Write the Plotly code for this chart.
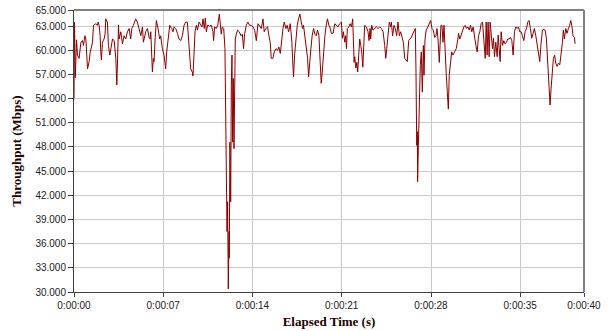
import plotly.graph_objects as go

# ---- data (elapsed seconds, throughput Mbps) ----
t_seg1 = [0.0, 0.04, 0.1, 0.2, 0.27, 0.40, 0.54, 0.67, 0.74, 0.85, 0.93, 0.98, 1.06, 1.19, 1.27, 1.37, 1.45, 1.53, 1.71, 1.84,
          1.89, 1.97, 2.05, 2.10, 2.15, 2.23, 2.36, 2.44, 2.49, 2.62, 2.70, 2.81, 2.89, 3.02, 3.15, 3.28, 3.36, 3.43, 3.49, 3.54,
          3.67, 3.80, 3.93, 4.06, 4.19, 4.32, 4.45, 4.53, 4.66, 4.84, 4.97, 5.10, 5.24, 5.37, 5.44, 5.63, 5.76, 5.89, 5.97, 6.02,
          6.10, 6.15, 6.23, 6.28, 6.36, 6.46, 6.59, 6.72, 6.80, 6.93, 7.06, 7.19, 7.27, 7.40, 7.51, 7.66, 7.77, 7.85, 7.98, 8.11,
          8.24, 8.37, 8.50, 8.63, 8.76, 8.89, 9.02, 9.15, 9.28, 9.33, 9.41, 9.49, 9.60, 9.68, 9.81, 9.94]
v_seg1 = [54.0, 63.5, 56.6, 61.3, 59.4, 59.0, 61.0, 61.2, 60.6, 61.8, 61.4, 60.2, 57.7, 58.6, 59.8, 60.4, 61.0, 63.1, 63.3, 63.1,
          63.5, 63.1, 61.8, 59.8, 58.8, 61.0, 61.4, 62.1, 63.9, 63.5, 60.6, 59.4, 60.2, 61.4, 61.2, 59.0, 55.7, 59.0, 63.1, 61.4,
          62.3, 60.8, 61.8, 61.4, 62.3, 62.7, 61.4, 62.7, 63.1, 63.9, 63.5, 62.7, 61.8, 62.9, 61.0, 62.3, 62.7, 61.6, 61.4, 62.3,
          59.8, 57.3, 59.0, 58.6, 61.4, 63.7, 62.7, 61.4, 61.8, 60.2, 59.4, 57.7, 59.8, 61.8, 63.1, 62.7, 62.3, 62.9, 62.7, 62.1,
          61.4, 61.2, 61.8, 63.1, 63.5, 63.5, 60.6, 57.7, 57.3, 56.8, 59.4, 62.3, 63.1, 62.5, 63.5, 63.1]

t_seg2 = [10.04, 10.12, 10.22, 10.30, 10.38, 10.48, 10.64, 10.77, 10.90, 10.95, 11.03, 11.16, 11.27, 11.40, 11.48, 11.55, 11.63,
          11.74, 11.84, 11.92, 12.00, 12.05, 12.10, 12.16, 12.18, 12.23, 12.29, 12.34, 12.39, 12.44, 12.49, 12.55, 12.60, 12.65,
          12.73, 12.83, 12.96, 13.10, 13.20, 13.30, 13.38, 13.51, 13.64, 13.77, 13.90, 14.04, 14.17, 14.30, 14.43, 14.56, 14.69,
          14.82, 14.92, 15.05, 15.18, 15.29, 15.39, 15.47, 15.60, 15.71, 15.84, 15.97, 16.07, 16.18, 16.28, 16.39, 16.49, 16.62,
          16.72, 16.83, 16.96, 17.09, 17.14, 17.22, 17.30, 17.40, 17.51, 17.61, 17.72, 17.82, 17.93, 18.00, 18.11, 18.21, 18.32,
          18.40, 18.47, 18.58, 18.68, 18.79, 18.89, 19.00, 19.10, 19.21, 19.31, 19.39, 19.47, 19.57, 19.68, 19.78, 19.88, 19.99]
v_seg2 = [62.9, 63.9, 62.7, 64.0, 62.3, 63.1, 63.0, 63.1, 62.3, 61.2, 62.9, 62.7, 63.1, 64.5, 63.5, 62.0, 62.9,
          62.7, 60.2, 51.1, 37.5, 41.2, 30.4, 37.5, 34.2, 48.6, 41.2, 55.6, 59.4, 48.6, 56.5, 47.8, 58.1, 61.4,
          62.0, 62.5, 62.3, 61.8, 62.0, 60.2, 62.0, 63.1, 63.5, 63.1, 63.1, 62.9, 62.5, 61.2, 63.3, 62.9, 62.7,
          63.9, 62.3, 62.7, 62.9, 61.8, 61.0, 59.0, 59.0, 59.8, 60.2, 60.0, 60.4, 59.6, 61.4, 62.7, 63.5, 62.7,
          63.1, 62.3, 63.3, 61.0, 59.0, 56.7, 59.4, 61.8, 63.1, 63.9, 64.5, 63.5, 62.7, 63.1, 61.8, 61.0, 59.0,
          56.7, 58.5, 60.2, 61.8, 62.7, 62.0, 61.8, 62.5, 61.8, 58.5, 55.9, 57.3, 60.2, 61.8, 63.1, 63.9, 63.1]

t_seg3 = [20.06, 20.19, 20.32, 20.45, 20.58, 20.71, 20.84, 20.97, 21.05, 21.13, 21.24, 21.31, 21.37, 21.44, 21.55, 21.65, 21.76,
          21.86, 21.91, 21.97, 22.02, 22.10, 22.18, 22.25, 22.33, 22.41, 22.49, 22.57, 22.65, 22.72, 22.80, 22.93, 23.06, 23.14,
          23.22, 23.27, 23.35, 23.45, 23.59, 23.72, 23.85, 23.98, 24.11, 24.24, 24.37, 24.45, 24.53, 24.63, 24.73, 24.84, 24.89,
          24.99, 25.10, 25.20, 25.31, 25.41, 25.52, 25.62, 25.73, 25.83, 25.94, 26.07, 26.14, 26.25, 26.35, 26.46, 26.56, 26.67,
          26.77, 26.82, 26.88, 26.93, 26.95, 27.01, 27.08, 27.16, 27.24, 27.32, 27.40, 27.45, 27.53, 27.63, 27.76, 27.89, 27.97,
          28.08, 28.18, 28.29, 28.39, 28.47, 28.55, 28.65, 28.70, 28.78, 28.86, 28.94, 29.02, 29.12, 29.20, 29.28, 29.36, 29.43,
          29.51, 29.62, 29.72, 29.85, 29.98, 30.11]
v_seg3 = [62.9, 62.1, 62.1, 63.3, 63.1, 62.9, 63.3, 63.5, 61.5, 62.3, 61.0, 61.8, 60.2, 62.7, 62.9, 63.3, 62.9,
          63.9, 61.4, 58.5, 59.2, 57.8, 58.5, 57.3, 59.4, 61.4, 60.6, 59.8, 57.9, 61.0, 63.1, 62.9, 62.3, 61.2,
          62.7, 61.4, 63.1, 62.5, 62.7, 62.9, 62.7, 62.9, 62.7, 62.3, 60.6, 59.0, 60.2, 61.8, 63.5, 62.9, 63.5,
          61.8, 63.1, 62.7, 61.8, 63.5, 61.8, 62.3, 61.4, 61.0, 59.0, 58.8, 58.6, 61.2, 61.4, 61.6, 62.0, 62.3,
          62.7, 57.7, 48.2, 49.9, 43.7, 48.2, 54.8, 58.1, 59.8, 54.8, 60.6, 56.9, 61.4, 62.5, 62.9, 63.3, 63.7,
          62.7, 62.5, 61.6, 61.8, 62.7, 61.4, 58.5, 61.4, 63.1, 63.1, 61.0, 63.1, 58.5, 56.9, 54.8, 52.7, 56.9,
          58.5, 59.8, 59.4, 59.8, 60.2, 61.4]

t_seg4 = [30.16, 30.26, 30.37, 30.47, 30.58, 30.68, 30.79, 30.89, 31.00, 31.10, 31.20, 31.31, 31.41, 31.52, 31.62, 31.73, 31.83,
          31.93, 32.04, 32.14, 32.25, 32.33, 32.40, 32.48, 32.56, 32.64, 32.72, 32.82, 32.90, 32.98, 33.08, 33.19, 33.27, 33.34,
          33.42, 33.50, 33.61, 33.71, 33.81, 33.92, 34.02, 34.13, 34.23, 34.34, 34.44, 34.55, 34.65, 34.75, 34.86, 34.96, 35.07,
          35.17, 35.28, 35.38, 35.49, 35.59, 35.69, 35.80, 35.90, 36.01, 36.11, 36.22, 36.32, 36.43, 36.53, 36.63, 36.74, 36.84,
          36.95, 37.05, 37.16, 37.26, 37.34, 37.42, 37.52, 37.60, 37.70, 37.78, 37.89, 37.99, 38.10, 38.20, 38.31, 38.38, 38.46,
          38.57, 38.67, 38.78, 38.88, 38.96, 39.04, 39.14, 39.25, 39.30]
v_seg4 = [62.1, 61.4, 62.0, 62.3, 62.9, 63.1, 62.7, 62.9, 62.5, 63.1, 62.3, 62.9, 61.6, 60.6, 59.8, 61.8, 62.3,
          63.3, 63.5, 61.8, 59.0, 63.5, 59.4, 63.5, 59.2, 63.5, 61.5, 60.2, 61.5, 59.2, 61.0, 59.2, 61.9, 59.4,
          58.6, 62.3, 60.6, 61.2, 60.8, 61.0, 61.4, 61.4, 61.6, 61.2, 59.4, 62.3, 62.9, 62.7, 62.9, 62.3, 62.3,
          61.8, 61.2, 62.3, 62.7, 63.5, 63.7, 62.7, 61.5, 62.1, 62.7, 61.8, 60.8, 59.6, 58.6, 60.8, 62.5, 62.6,
          62.5, 61.5, 57.9, 55.7, 53.2, 55.3, 57.3, 59.0, 59.4, 58.4, 58.0, 58.4, 58.2, 59.4, 61.0, 62.5, 61.4,
          62.7, 62.1, 62.7, 63.1, 63.7, 63.1, 61.8, 61.6, 60.8]

x_tick_vals = [0, 7, 14, 21, 28, 35, 40]
x_tick_text = ["0:00:00", "0:00:07", "0:00:14", "0:00:21", "0:00:28", "0:00:35", "0:00:40"]
y_tick_vals = [30, 33, 36, 39, 42, 45, 48, 51, 54, 57, 60, 63, 65]
y_tick_text = ["30.000", "33.000", "36.000", "39.000", "42.000", "45.000", "48.000",
               "51.000", "54.000", "57.000", "60.000", "63.000", "65.000"]

for a, b in [(t_seg1, v_seg1), (t_seg2, v_seg2), (t_seg3, v_seg3), (t_seg4, v_seg4)]:
    assert len(a) == len(b), (len(a), len(b))

elapsed = t_seg1 + t_seg2 + t_seg3 + t_seg4
throughput = v_seg1 + v_seg2 + v_seg3 + v_seg4

fig = go.Figure()
fig.add_trace(go.Scatter(x=elapsed, y=throughput, mode="lines",
                         line=dict(color="#8b0000", width=1), hoverinfo="skip"))

tick_font = dict(family="Liberation Sans, Arial, sans-serif", size=10, color="#202020")
title_font = dict(family="Liberation Serif, Times New Roman, serif", size=13, color="#200000")

fig.update_layout(
    width=609, height=331,
    margin=dict(l=74, r=25, t=10, b=39),
    paper_bgcolor="white", plot_bgcolor="white",
    showlegend=False,
    xaxis=dict(range=[0, 40], tickmode="array", tickvals=x_tick_vals, ticktext=x_tick_text,
               ticks="outside", ticklen=4, tickcolor="#404040", showline=True, linecolor="#404040",
               linewidth=1, showgrid=True, gridcolor="#c8c8c8", gridwidth=1, zeroline=False,
               tickfont=tick_font, automargin=False, ticklabeloverflow="allow",
               title=dict(text="<b>Elapsed Time (s)</b>", font=title_font, standoff=6)),
    yaxis=dict(range=[30, 65], tickmode="array", tickvals=y_tick_vals, ticktext=y_tick_text,
               ticks="outside", ticklen=5, tickcolor="#404040", showline=True, linecolor="#404040",
               linewidth=1, showgrid=True, gridcolor="#c8c8c8", gridwidth=1, zeroline=False,
               tickfont=tick_font, automargin=False, ticklabeloverflow="allow",
               title=dict(text="<b>Throughput (Mbps)</b>", font=title_font, standoff=10)),
    shapes=[
        dict(type="line", xref="paper", yref="paper", x0=0, x1=1, y0=1, y1=1,
             line=dict(color="#808080", width=2), layer="above"),
        dict(type="line", xref="paper", yref="paper", x0=1, x1=1, y0=0, y1=1,
             line=dict(color="#808080", width=2), layer="above"),
    ],
)

# remove the default page margin so the figure sits at the window's top-left corner
fig.write_html("out.html", config={"displayModeBar": False},
               post_script="document.body.style.margin='0';")
